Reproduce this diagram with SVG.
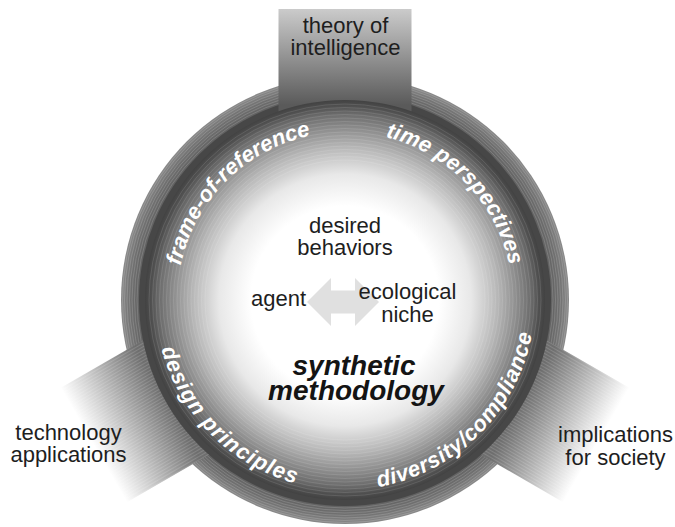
<svg xmlns="http://www.w3.org/2000/svg" width="675" height="527" viewBox="0 0 675 527">
<defs>
<style>
.lbl{font-family:"Liberation Sans",Arial,sans-serif;font-size:22px;fill:#1e1e1e;text-anchor:middle}
.ring{font-family:"Liberation Sans",Arial,sans-serif;font-size:22px;font-weight:bold;font-style:italic;fill:#ffffff}
.title{font-family:"Liberation Sans",Arial,sans-serif;font-size:28px;font-weight:bold;font-style:italic;fill:#141414;text-anchor:middle}
.so{fill:none;stroke:#ffffff;stroke-opacity:0.22;stroke-width:0.7}
.si{fill:none;stroke:#ffffff;stroke-opacity:0.16;stroke-width:0.7}
</style>
<radialGradient id="gOuter" cx="345" cy="300" r="224" gradientUnits="userSpaceOnUse">
<stop offset="0.9" stop-color="#5a5a5a"/>
<stop offset="0.96" stop-color="#717171"/>
<stop offset="1" stop-color="#8a8a8a"/>
</radialGradient>
<radialGradient id="gInner" cx="345" cy="300" r="200" gradientUnits="userSpaceOnUse">
<stop offset="0" stop-color="#ffffff"/>
<stop offset="0.47" stop-color="#ffffff"/>
<stop offset="0.63" stop-color="#e8e8e8"/>
<stop offset="0.76" stop-color="#b8b8b8"/>
<stop offset="0.86" stop-color="#8c8c8c"/>
<stop offset="0.93" stop-color="#6c6c6c"/>
<stop offset="0.97" stop-color="#505050"/>
<stop offset="1" stop-color="#424242"/>
</radialGradient>
<linearGradient id="gTop" x1="0" y1="-291" x2="0" y2="-195" gradientUnits="userSpaceOnUse">
<stop offset="0" stop-color="#cbcbcb"/>
<stop offset="1" stop-color="#5a5a5a"/>
</linearGradient>
<linearGradient id="gSide" x1="0" y1="-290" x2="0" y2="-205" gradientUnits="userSpaceOnUse">
<stop offset="0" stop-color="#ffffff"/>
<stop offset="1" stop-color="#6e6e6e"/>
</linearGradient>
<pattern id="stripes" x="0" y="0" width="3" height="10" patternUnits="userSpaceOnUse">
<rect x="0" y="0" width="0.8" height="10" fill="#ffffff" fill-opacity="0.18"/>
</pattern>
<path id="pFrame" d="M180.7,265.1 A168,168 0 0 1 310.1,135.7"/>
<path id="pTime" d="M385.6,137 A168,168 0 0 1 509.3,265.1"/>
<path id="pDesign" d="M161.5,349.2 A190,190 0 0 0 295.8,483.5"/>
<path id="pDiv" d="M378,487.1 A190,190 0 0 0 532.1,333"/>
</defs>

<g id="node-core-outer">
<circle cx="345" cy="300" r="224" fill="url(#gOuter)"/>
<circle class="so" cx="345" cy="300" r="208"/>
<circle class="so" cx="345" cy="300" r="210.5"/>
<circle class="so" cx="345" cy="300" r="213"/>
<circle class="so" cx="345" cy="300" r="215.5"/>
<circle class="so" cx="345" cy="300" r="218"/>
<circle class="so" cx="345" cy="300" r="220.5"/>
<circle class="so" cx="345" cy="300" r="222.5"/>
</g>

<g id="node-technology">
<g transform="translate(345,300) rotate(-120)">
<rect x="-66" y="-292" width="132" height="292" fill="url(#gSide)"/>
<rect x="-66" y="-292" width="132" height="292" fill="url(#stripes)"/>
</g>
<text class="lbl" x="68.5" y="440">technology</text>
<text class="lbl" x="68.5" y="462">applications</text>
</g>

<g id="node-implications">
<g transform="translate(345,300) rotate(120)">
<rect x="-66" y="-292" width="132" height="292" fill="url(#gSide)"/>
<rect x="-66" y="-292" width="132" height="292" fill="url(#stripes)"/>
</g>
<text class="lbl" x="615.5" y="442">implications</text>
<text class="lbl" x="615.5" y="465">for society</text>
</g>

<g id="node-core-ring">
<circle cx="345" cy="300" r="206" fill="#474747"/>
</g>

<g id="node-theory">
<g transform="translate(345,300)">
<rect x="-66.5" y="-291" width="133" height="291" fill="url(#gTop)"/>
</g>
<text class="lbl" x="345.5" y="33">theory of</text>
<text class="lbl" x="345.5" y="55">intelligence</text>
</g>

<g id="node-core">
<circle cx="345" cy="300" r="200" fill="url(#gInner)"/>
<circle class="si" cx="345" cy="300" r="196"/>
<circle class="si" cx="345" cy="300" r="192.5"/>
<circle class="si" cx="345" cy="300" r="189"/>
<circle class="si" cx="345" cy="300" r="185.5"/>
<circle class="si" cx="345" cy="300" r="182"/>
<circle class="si" cx="345" cy="300" r="178.5"/>
<circle class="si" cx="345" cy="300" r="175"/>
<circle class="si" cx="345" cy="300" r="171.5"/>
<circle class="si" cx="345" cy="300" r="168"/>
<circle class="si" cx="345" cy="300" r="164.5"/>
<circle class="si" cx="345" cy="300" r="161"/>
<circle class="si" cx="345" cy="300" r="157.5"/>
<circle class="si" cx="345" cy="300" r="154"/>
<circle class="si" cx="345" cy="300" r="150.5"/>
<circle class="si" cx="345" cy="300" r="147"/>
<circle class="si" cx="345" cy="300" r="143.5"/>
<circle class="si" cx="345" cy="300" r="140"/>
<text class="ring" letter-spacing="0"><textPath href="#pFrame" startOffset="50%" text-anchor="middle">frame-of-reference</textPath></text>
<text class="ring" letter-spacing="0.1"><textPath href="#pTime" startOffset="50%" text-anchor="middle">time perspectives</textPath></text>
<text class="ring" letter-spacing="1.1"><textPath href="#pDesign" startOffset="50%" text-anchor="middle">design principles</textPath></text>
<text class="ring" letter-spacing="0.7"><textPath href="#pDiv" startOffset="50%" text-anchor="middle">diversity/compliance</textPath></text>
<text class="title" x="354" y="375">synthetic</text>
<text class="title" x="356" y="400">methodology</text>
</g>

<g id="node-desired">
<text class="lbl" x="345" y="233">desired</text>
<text class="lbl" x="345" y="255">behaviors</text>
</g>

<g id="connectors">
<polygon points="307,302 331,278 331,290.5 355,290.5 355,278 379,302 355,326 355,313.5 331,313.5 331,326" fill="#e0e0e0"/>
</g>

<g id="node-agent">
<text class="lbl" x="278.5" y="306">agent</text>
</g>

<g id="node-niche">
<text class="lbl" x="407.5" y="299">ecological</text>
<text class="lbl" x="407.5" y="322">niche</text>
</g>
</svg>
